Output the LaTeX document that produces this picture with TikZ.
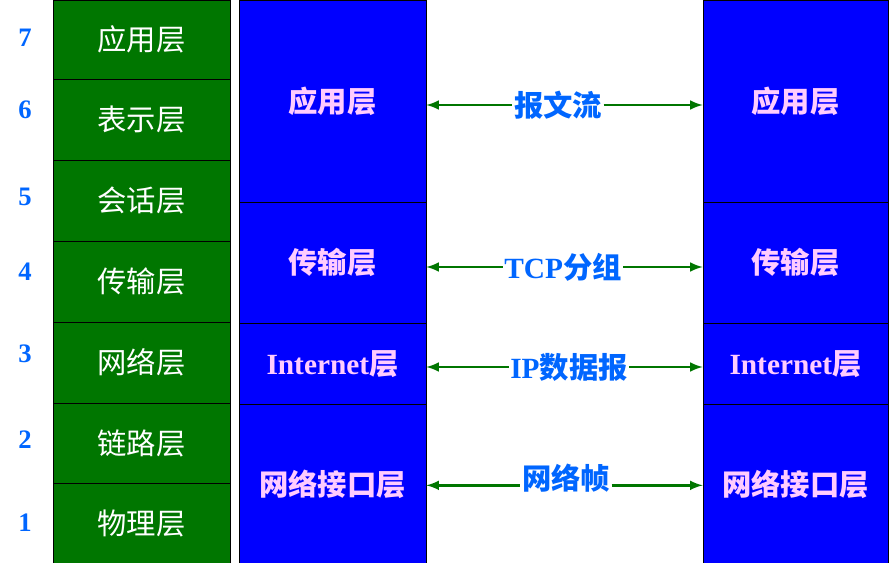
\documentclass[tikz,border=0pt]{standalone}
\usepackage{fontspec}
\setmainfont{Liberation Serif}
\newfontfamily\cjk{Noto Sans CJK SC}
\usetikzlibrary{positioning}
\definecolor{osigreen}{RGB}{0,118,0}
\definecolor{tcpblue}{RGB}{0,0,255}
\definecolor{pinktext}{RGB}{255,204,255}
\definecolor{lblblue}{RGB}{0,102,255}
\tikzset{
  osibox/.style={draw=black, fill=osigreen, text=white, minimum width=177*0.75pt, font=\cjk\fontsize{22}{24}\selectfont},
  tcpbox/.style={draw=black, fill=tcpblue, text=pinktext, font=\cjk\bfseries\fontsize{22}{24}\selectfont},
  num/.style={text=lblblue, font=\bfseries\fontsize{20}{22}\selectfont},
  flow/.style={fill=white, text=lblblue, font=\cjk\bfseries\fontsize{22}{24}\selectfont, inner sep=1pt},
  peer/.style={osigreen, line width=2.2pt},
}
\begin{document}
\begin{tikzpicture}[x=0.75pt,y=-0.75pt,>=latex]
    \useasboundingbox (0,0) rectangle (890,563);
    % left: seven layers
    \foreach \n/\txt/\ya/\yb/\yn in {7/应用层/0/79/38, 6/表示层/79/160/110, 5/会话层/160/241/197, 4/传输层/241/322/272,
        3/网络层/322/403/354, 2/链路层/403/483/440, 1/物理层/483/563/523} {
        \node[osibox, minimum height=(\yb-\ya)*0.75pt] (osi\n) at (141.5,{(\ya+\yb)/2}) {\txt};
        \node[num] (num\n) at (25,\yn) {\n};
    }
    % middle and right stacks
    \foreach \side/\xx/\w in {l/332.5/187, r/795.5/185} {
        \node[tcpbox, minimum width=\w*0.75pt, minimum height=202*0.75pt] (app\side) at (\xx,101) {应用层};
        \node[tcpbox, minimum width=\w*0.75pt, minimum height=121*0.75pt] (tra\side) at (\xx,262.5) {传输层};
        \node[tcpbox, minimum width=\w*0.75pt, minimum height=81*0.75pt] (net\side) at (\xx,364) {{\rmfamily Internet}层};
        \node[tcpbox, minimum width=\w*0.75pt, minimum height=159*0.75pt] (lnk\side) at (\xx,484) {网络接口层};
    }
    % peer flows
    \node[flow] (fapp) at (558,105) {报文流};
    \node[flow] (ftra) at (563,267) {{\rmfamily TCP}分组};
    \node[flow] (fnet) at (569,367) {{\rmfamily IP}数据报};
    \node[flow] (flnk) at (566,478) {网络帧};
    \draw[<-, peer] (appl.east |- fapp) -- (fapp);
    \draw[->, peer] (fapp) -- (appr.west |- fapp);
    \draw[<-, peer] (tral.east |- ftra) -- (ftra);
    \draw[->, peer] (ftra) -- (trar.west |- ftra);
    \draw[<-, peer] (netl.east |- fnet) -- (fnet);
    \draw[->, peer] (fnet) -- (netr.west |- fnet);
    \draw[<-, peer] ([yshift=-5.5pt]lnkl.east |- flnk) -- ([yshift=-5.5pt]flnk.west);
    \draw[->, peer] ([yshift=-5.5pt]flnk.east) -- ([yshift=-5.5pt]lnkr.west |- flnk);
\end{tikzpicture}
\end{document}
